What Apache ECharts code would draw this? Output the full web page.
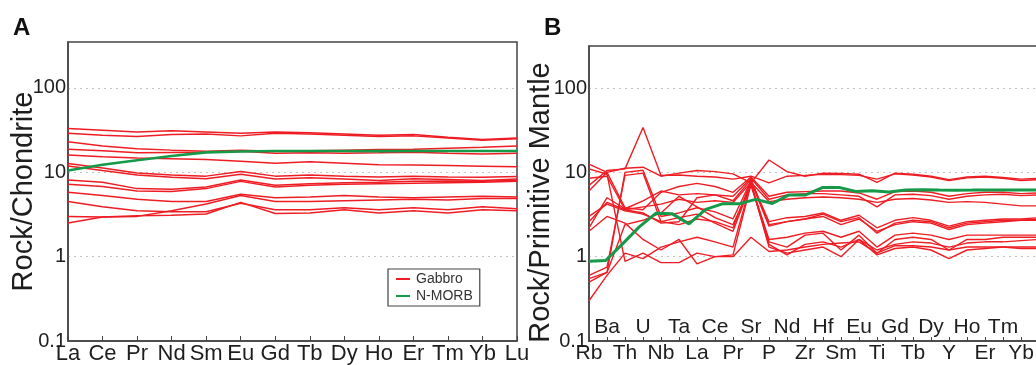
<!DOCTYPE html>
<html>
<head>
<meta charset="utf-8">
<script src="https://cdn.jsdelivr.net/npm/echarts@6/dist/echarts.min.js"></script>
<style>
  html, body { margin: 0; padding: 0; background: #fff; }
  #chart { width: 1036px; height: 365px; }
</style>
</head>
<body>
<div id="chart"></div>
<script>
// chondrite-normalised REE (panel A)
const reeElements = ['La', 'Ce', 'Pr', 'Nd', 'Sm', 'Eu', 'Gd', 'Tb', 'Dy', 'Ho', 'Er', 'Tm', 'Yb', 'Lu'];
const reeMorb = [10.5, 12.3, 13.9, 15.6, 17.2, 17.6, 17.9, 17.9, 17.9, 17.8, 17.9, 17.9, 17.9, 17.9];
const reeGabbro = [
  [33, 31.5, 30, 31, 30, 29, 30, 29.5, 28.5, 27.5, 28, 26, 24.5, 25.5],
  [29, 27.5, 26.5, 28, 28.5, 27, 29, 28.5, 27.5, 26.5, 27, 25.5, 24, 25],
  [23, 20.5, 19, 18.3, 17.8, 18.2, 17.8, 18, 18.3, 18.6, 18.8, 19.3, 19.8, 20.5],
  [18.8, 18, 17, 17.2, 17.3, 17.8, 16.8, 17, 16.8, 17, 17.3, 16.8, 16.5, 16.8],
  [16, 15.3, 14.8, 14.5, 14.2, 13.5, 12.8, 13.3, 12.8, 12.3, 12.2, 12, 11.8, 11.6],
  [12.7, 11.2, 9.8, 9.3, 9.0, 10.2, 9.0, 9.3, 9.0, 8.8, 9.0, 8.8, 8.7, 8.9],
  [11.9, 10.5, 9.3, 8.7, 8.4, 9.5, 8.3, 8.6, 8.3, 8.0, 8.4, 8.2, 8.0, 8.3],
  [8.1, 7.6, 6.4, 6.3, 6.7, 8.1, 7.0, 7.3, 7.5, 7.6, 7.8, 7.9, 7.8, 8.0],
  [7.2, 6.8, 6.0, 5.9, 6.4, 7.8, 6.7, 7.0, 7.2, 7.3, 7.4, 7.5, 7.6, 7.8],
  [5.8, 5.3, 4.8, 4.5, 4.5, 5.5, 5.0, 5.1, 5.3, 5.1, 5.0, 5.1, 5.2, 5.1],
  [4.5, 3.9, 3.5, 3.4, 3.4, 4.3, 3.6, 3.6, 3.8, 3.6, 3.8, 3.6, 3.9, 3.7],
  [3.0, 2.95, 3.0, 3.5, 4.2, 5.3, 4.5, 4.5, 4.6, 4.7, 4.8, 4.7, 4.9, 4.9],
  [2.5, 2.95, 3.05, 3.1, 3.2, 4.4, 3.25, 3.3, 3.6, 3.3, 3.5, 3.3, 3.6, 3.5]
];

// primitive-mantle-normalised trace elements (panel B)
const spiderElements = ['Rb', 'Ba', 'Th', 'U', 'Nb', 'Ta', 'La', 'Ce', 'Pr', 'Sr', 'P', 'Nd', 'Zr',
  'Hf', 'Sm', 'Eu', 'Ti', 'Gd', 'Tb', 'Dy', 'Y', 'Ho', 'Er', 'Tm', 'Yb', 'Lu'];
// the N-MORB curve was plotted with K and Pb included
const morbElements = ['Rb', 'Ba', 'Th', 'U', 'Nb', 'Ta', 'K', 'La', 'Ce', 'Pb', 'Pr', 'Sr', 'P', 'Nd',
  'Zr', 'Hf', 'Sm', 'Eu', 'Ti', 'Gd', 'Tb', 'Dy', 'Y', 'Ho', 'Er', 'Tm', 'Yb', 'Lu'];
const spiderMorb = [0.88, 0.9, 1.41, 2.24, 3.27, 3.22, 2.45, 3.64, 4.23, 4.23, 4.78, 4.27, 5.4, 5.39,
  6.6, 6.63, 5.92, 6.07, 5.85, 6.17, 6.2, 6.17, 6.15, 6.16, 6.19, 6.16, 6.19, 6.15];
const spiderGabbro = [
  [12.5, 10, 11.2, 11.5, 9, 9.8, 10.5, 10.2, 9.6, 7.5, 14, 10.2, 9.0, 9.8, 9.7, 9.5, 7.6, 9.8, 9.5, 9.0, 8.2, 8.8, 9.0, 8.7, 8.3, 8.5],
  [7, 10.5, 11, 34, 9.2, 9.3, 9.0, 8.8, 8.3, 9, 7.5, 9, 9.2, 9.5, 9.4, 9.2, 8.3, 9.6, 9.3, 8.8, 8.0, 8.6, 8.8, 8.5, 8.0, 8.2],
  [6, 10, 3.8, 3.6, 5.8, 6.8, 7.4, 6.8, 5.8, 8.8, 5.2, 5.8, 5.9, 6.0, 6.0, 5.7, 4.8, 5.9, 6.0, 5.8, 5.2, 5.6, 5.8, 5.8, 5.6, 5.7],
  [2.2, 5, 3.7, 4.6, 6, 5.4, 5.6, 5.4, 5.2, 8.5, 4.8, 5.4, 5.6, 5.6, 5.4, 5.2, 3.9, 5.4, 5.5, 5.3, 4.8, 5.2, 5.4, 5.5, 5.3, 5.4],
  [2.6, 4.4, 3.6, 3.9, 4.2, 4.8, 4.4, 4.6, 4.4, 7.6, 4.5, 4.8, 5.0, 5.1, 5.0, 4.8, 4.4, 4.8, 4.9, 4.7, 4.4, 4.5, 4.4, 4.2, 4.0, 4.0],
  [0.55, 0.65, 10, 10.6, 3.0, 3.3, 3.8, 3.4, 2.8, 8.0, 2.6, 2.9, 3.0, 3.3, 2.7, 3.1, 2.2, 2.7, 2.9, 2.7, 2.3, 2.6, 2.7, 2.8, 2.8, 2.9],
  [0.6, 0.75, 9.2, 9.8, 2.6, 2.4, 2.8, 2.6, 2.2, 7.8, 2.3, 2.6, 2.8, 3.0, 2.4, 2.8, 2.0, 2.4, 2.6, 2.5, 2.1, 2.4, 2.5, 2.6, 2.7, 2.7],
  [3.0, 4.2, 3.5, 3.2, 2.6, 2.9, 3.2, 2.5, 2.0, 7.3, 1.6, 1.7, 1.9, 2.0, 1.7, 2.0, 1.3, 1.8, 1.9, 1.8, 1.6, 1.8, 1.8, 1.8, 1.8, 1.8],
  [0.5, 0.65, 2.4, 2.7, 3.3, 5.2, 3.9, 2.9, 2.4, 7.0, 1.5, 1.3, 1.8, 1.9, 1.2, 1.8, 1.1, 1.6, 1.7, 1.6, 1.2, 1.6, 1.6, 1.7, 1.7, 1.7],
  [0.3, 0.6, 1.1, 0.95, 1.3, 1.5, 1.7, 1.5, 1.3, 7.5, 1.3, 1.1, 1.2, 1.3, 1.0, 1.6, 1.05, 1.25, 1.3, 1.2, 0.95, 1.2, 1.25, 1.3, 1.3, 1.3],
  [11, 9.5, 0.88, 1.1, 0.85, 0.85, 1.1, 1.0, 1.0, 1.7, 1.15, 1.2, 1.3, 1.4, 1.45, 1.5, 1.1, 1.35, 1.35, 1.3, 1.2, 1.3, 1.3, 1.3, 1.25, 1.25],
  [2.0, 3.0, 2.5, 1.6, 1.2, 1.6, 0.82, 1.0, 1.05, 7.2, 1.4, 1.05, 1.4, 1.5, 1.3, 1.6, 1.2, 1.4, 1.5, 1.45, 1.3, 1.45, 1.5, 1.5, 1.55, 1.6],
  [8.5, 9, 3.6, 3.3, 2.5, 2.6, 5.0, 5.4, 4.6, 8.2, 2.4, 2.6, 2.8, 3.2, 2.6, 2.9, 1.9, 2.5, 2.7, 2.6, 2.2, 2.5, 2.6, 2.7, 2.7, 2.8]
];

const yTickLabels = ['0.1', '1', '10', '100'];

const RED = '#ee1d23';
const GREEN = '#149a48';
const AXIS = '#444';
const TEXT = '#1e1e1e';

const chart = echarts.init(document.getElementById('chart'));

function logAxis(gridIndex, max, name, nameGap, namePad) {
  return {
    type: 'log',
    gridIndex: gridIndex,
    min: 0.1,
    max: max,
    axisLine: {show: true, lineStyle: {color: AXIS, width: 1.5}},
    axisTick: {show: false},
    axisLabel: {
      fontSize: 20,
      color: TEXT,
      margin: 2,
      formatter: function (v) {
        const e = Math.log10(v);
        const r = Math.round(e);
        return Math.abs(e - r) < 1e-6 ? yTickLabels[r + 1] : '';
      }
    },
    splitLine: {
      show: true,
      showMinLine: false,
      showMaxLine: false,
      lineStyle: {type: [2, 4], color: '#c4c4c4', width: 1}
    },
    name: name,
    nameLocation: 'middle',
    nameGap: nameGap,
    nameMoveOverlap: false,
    nameRotate: 90,
    nameTextStyle: {fontSize: 29, color: TEXT, padding: namePad}
  };
}

const series = [];
reeGabbro.forEach(function (d) {
  series.push({
    type: 'line', name: 'Gabbro', xAxisIndex: 0, yAxisIndex: 0, data: d,
    symbol: 'none', silent: true, lineStyle: {color: RED, width: 1.5}, itemStyle: {color: RED}
  });
});
series.push({
  type: 'line', name: 'N-MORB', xAxisIndex: 0, yAxisIndex: 0, data: reeMorb, z: 3,
  symbol: 'none', silent: true, lineStyle: {color: GREEN, width: 2.6}, itemStyle: {color: GREEN}
});
spiderGabbro.forEach(function (d) {
  series.push({
    type: 'line', name: 'Gabbro', xAxisIndex: 1, yAxisIndex: 1, data: d,
    symbol: 'none', silent: true, lineStyle: {color: RED, width: 1.4}, itemStyle: {color: RED}
  });
});
series.push({
  type: 'line', name: 'N-MORB', xAxisIndex: 3, yAxisIndex: 1, data: spiderMorb, z: 3,
  symbol: 'none', silent: true, lineStyle: {color: GREEN, width: 3}, itemStyle: {color: GREEN}
});

const option = {
  animation: false,
  textStyle: {fontFamily: 'Liberation Sans, Arial, sans-serif'},
  title: [
    {text: 'A', left: 13, top: 16, padding: 0, textStyle: {fontSize: 24, fontWeight: 'bold', color: '#111'}},
    {text: 'B', left: 544, top: 16, padding: 0, textStyle: {fontSize: 24, fontWeight: 'bold', color: '#111'}}
  ],
  legend: {
    data: [
      {name: 'Gabbro', icon: 'rect', itemStyle: {color: RED}},
      {name: 'N-MORB', icon: 'rect', itemStyle: {color: GREEN}}
    ],
    orient: 'vertical',
    left: 388,
    top: 269,
    padding: [3, 7, 3, 8],
    itemGap: 3,
    itemWidth: 14,
    itemHeight: 2,
    borderColor: AXIS,
    borderWidth: 1.2,
    selectedMode: false,
    textStyle: {fontSize: 14, color: '#333', padding: [0, 0, 0, 1]}
  },
  grid: [
    {left: 68, top: 42, width: 449, height: 299, show: true, borderColor: AXIS, borderWidth: 1.5, outerBoundsMode: 'none'},
    {left: 589, top: 46, width: 450, height: 295, show: true, borderColor: AXIS, borderWidth: 1.5, outerBoundsMode: 'none'}
  ],
  xAxis: [
    {
      type: 'category', gridIndex: 0, data: reeElements, boundaryGap: false, position: 'bottom',
      axisLine: {lineStyle: {color: AXIS, width: 1.5}},
      axisTick: {inside: true, length: 5, interval: 0, lineStyle: {color: AXIS}},
      axisLabel: {interval: 0, fontSize: 22, color: TEXT, margin: 2},
      splitLine: {show: false}
    },
    {
      type: 'category', gridIndex: 1, data: spiderElements, boundaryGap: false, position: 'bottom',
      axisLine: {lineStyle: {color: AXIS, width: 1.5}},
      axisTick: {inside: true, length: 4, interval: 0, lineStyle: {color: AXIS}},
      axisLabel: {interval: function (i) { return i % 2 === 0; }, fontSize: 21, color: TEXT, margin: 2},
      splitLine: {show: false}
    },
    {
      type: 'category', gridIndex: 1, data: spiderElements, boundaryGap: false, position: 'bottom',
      axisLine: {show: false},
      axisTick: {show: false},
      axisLabel: {
        inside: true,
        interval: function (i) { return i % 2 === 1 && i < spiderElements.length - 1; },
        fontSize: 21, color: TEXT, margin: 3
      },
      splitLine: {show: false}
    },
    {
      type: 'category', gridIndex: 1, data: morbElements, boundaryGap: false, position: 'bottom', show: false
    }
  ],
  yAxis: [
    logAxis(0, 350, 'Rock/Chondrite', 30, [0, 0, 0, 0]),
    logAxis(1, 315, 'Rock/Primitive Mantle', 34, [0, 18, 0, 0])
  ],
  series: series
};

chart.setOption(option);
</script>
</body>
</html>
